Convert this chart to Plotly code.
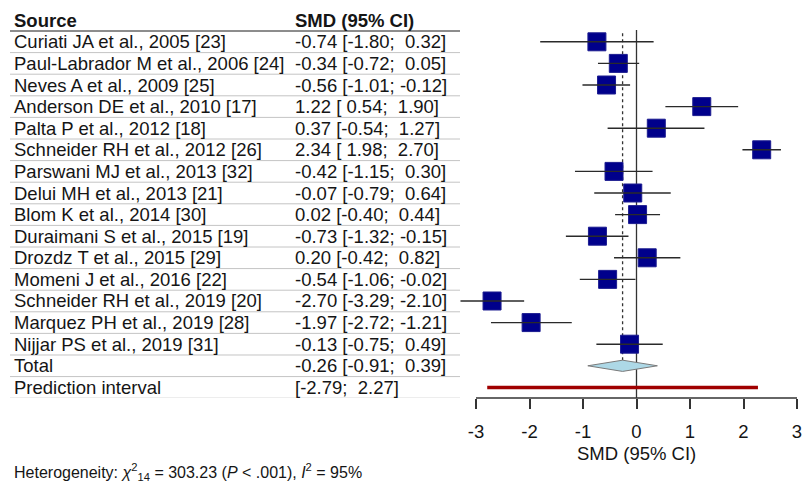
import plotly.graph_objects as go

# ---------------- data ----------------
studies = [
    "Curiati JA et al., 2005 [23]",
    "Paul-Labrador M et al., 2006 [24]",
    "Neves A et al., 2009 [25]",
    "Anderson DE et al., 2010 [17]",
    "Palta P et al., 2012 [18]",
    "Schneider RH et al., 2012 [26]",
    "Parswani MJ et al., 2013 [32]",
    "Delui MH et al., 2013 [21]",
    "Blom K et al., 2014 [30]",
    "Duraimani S et al., 2015 [19]",
    "Drozdz T et al., 2015 [29]",
    "Momeni J et al., 2016 [22]",
    "Schneider RH et al., 2019 [20]",
    "Marquez PH et al., 2019 [28]",
    "Nijjar PS et al., 2019 [31]",
]
smd = [-0.74, -0.34, -0.56, 1.22, 0.37, 2.34, -0.42, -0.07, 0.02, -0.73, 0.20, -0.54, -2.70, -1.97, -0.13]
lo = [-1.80, -0.72, -1.01, 0.54, -0.54, 1.98, -1.15, -0.79, -0.40, -1.32, -0.42, -1.06, -3.29, -2.72, -0.75]
hi = [0.32, 0.05, -0.12, 1.90, 1.27, 2.70, 0.30, 0.64, 0.44, -0.15, 0.82, -0.02, -2.10, -1.21, 0.49]
total_smd = -0.26
total_lo = -0.91
total_hi = 0.39
pred_lo = -2.79
pred_hi = 2.27
xticks = [-3, -2, -1, 0, 1, 2, 3]
header_source = "Source"
header_smd = "SMD (95% CI)"
axis_title = "SMD (95% CI)"
heterogeneity = ("Heterogeneity: <i>χ</i><sup>2</sup><sub>14</sub> = 303.23 "
                 "(<i>P</i> &lt; .001), <i>I</i><sup>2</sup> = 95%")

# ---------------- layout constants ----------------
W, H = 804, 484
B = 86                      # bottom margin (px)
PH = H - B                  # plot height in px
FONT = "Arial, 'Liberation Sans', sans-serif"
TXT = "#151515"
FS = 18.5
n = len(studies)
rows = list(range(1, n + 1))
total_row = n + 1
pred_row = n + 2


def pad(v):
    s = f"{v:.2f}"
    return ("\u00a0" + s) if v >= 0 else s


def ci_text(m, l, h):
    return f"{m:.2f} [{pad(l)}; {pad(h)}]"


def px_to_paper_y(p):
    return (PH - p) / PH


fig = go.Figure()

cx, cy = [], []
for r, l, h in zip(rows, lo, hi):
    cx += [l, h, None]
    cy += [r, r, None]

fig.add_trace(go.Scatter(
    x=smd, y=rows, mode="markers",
    marker=dict(symbol="square", size=18, color="#00008B",
                line=dict(color="#1c1c90", width=1)),
    hoverinfo="skip", showlegend=False))
fig.add_trace(go.Scatter(
    x=cx, y=cy, mode="lines",
    line=dict(color="#2a2a2a", width=1.4),
    hoverinfo="skip", showlegend=False))

dh = 0.26
fig.add_trace(go.Scatter(
    x=[total_lo, total_smd, total_hi, total_smd, total_lo],
    y=[total_row, total_row - dh, total_row, total_row + dh, total_row],
    mode="lines", fill="toself", fillcolor="#ADD8E6",
    line=dict(color="#7a7a7a", width=1),
    hoverinfo="skip", showlegend=False))

fig.add_trace(go.Scatter(
    x=[pred_lo, pred_hi], y=[pred_row, pred_row], mode="lines",
    line=dict(color="#A00000", width=3.5),
    hoverinfo="skip", showlegend=False))

shapes = []
for k in range(0, n + 3):
    shapes.append(dict(
        type="line", xref="paper", yref="y",
        x0=10 / W, x1=460 / W, y0=k + 0.5, y1=k + 0.5,
        line=dict(color="#1a1a1a" if k == 0 else "#c4c4c4", width=1)))
shapes.append(dict(type="line", xref="x", yref="y", x0=0, x1=0,
                   y0=0.45, y1=pred_row + 0.5, layer="below",
                   line=dict(color="#333333", width=1.3)))
shapes.append(dict(type="line", xref="x", yref="y", x0=total_smd, x1=total_smd,
                   y0=0.6, y1=total_row - dh, layer="below",
                   line=dict(color="#333333", width=1.3, dash="dot")))
shapes.append(dict(type="line", xref="x", yref="paper", x0=xticks[0], x1=xticks[-1],
                   y0=0, y1=0, line=dict(color="#333333", width=1.5)))


def txt(text, x, y, xref="paper", yref="y", size=FS, anchor="left"):
    return dict(text=text, xref=xref, yref=yref, x=x, y=y, xanchor=anchor,
                yanchor="middle", showarrow=False,
                font=dict(size=size, color=TXT, family=FONT))


ann = [txt(f"<b>{header_source}</b>", 12 / W, 0),
       txt(f"<b>{header_smd}</b>", 293 / W, 0)]
for r, s, m, l, h in zip(rows, studies, smd, lo, hi):
    ann.append(txt(s, 12 / W, r))
    ann.append(txt(ci_text(m, l, h), 293 / W, r))
ann.append(txt("Total", 12 / W, total_row))
ann.append(txt(ci_text(total_smd, total_lo, total_hi), 293 / W, total_row))
ann.append(txt("Prediction interval", 12 / W, pred_row))
ann.append(txt(f"[{pred_lo:.2f}; {pad(pred_hi)}]", 293 / W, pred_row))
ann.append(txt(axis_title, 0, px_to_paper_y(453), xref="x", yref="paper", anchor="center"))
ann.append(txt(heterogeneity, 12 / W, px_to_paper_y(472), yref="paper", size=16))

x0v, x1v = -3.5, 3.1
dom = [(636.5 + 53.5 * x0v) / W, (636.5 + 53.5 * x1v) / W]

fig.update_layout(
    width=W, height=H,
    margin=dict(l=0, r=0, t=0, b=B, pad=0),
    paper_bgcolor="white", plot_bgcolor="white",
    shapes=shapes, annotations=ann,
    xaxis=dict(domain=dom, range=[x0v, x1v], tickvals=xticks,
               ticktext=[str(t) for t in xticks],
               ticks="outside", ticklen=10, tickwidth=1.5, tickcolor="#333333",
               ticklabelstandoff=7,
               showline=False, showgrid=False, zeroline=False,
               tickfont=dict(size=FS, color=TXT, family=FONT)),
    yaxis=dict(range=[17.491, -0.935], visible=False, showgrid=False, zeroline=False),
    font=dict(family=FONT),
)

fig.write_html("out.html")
